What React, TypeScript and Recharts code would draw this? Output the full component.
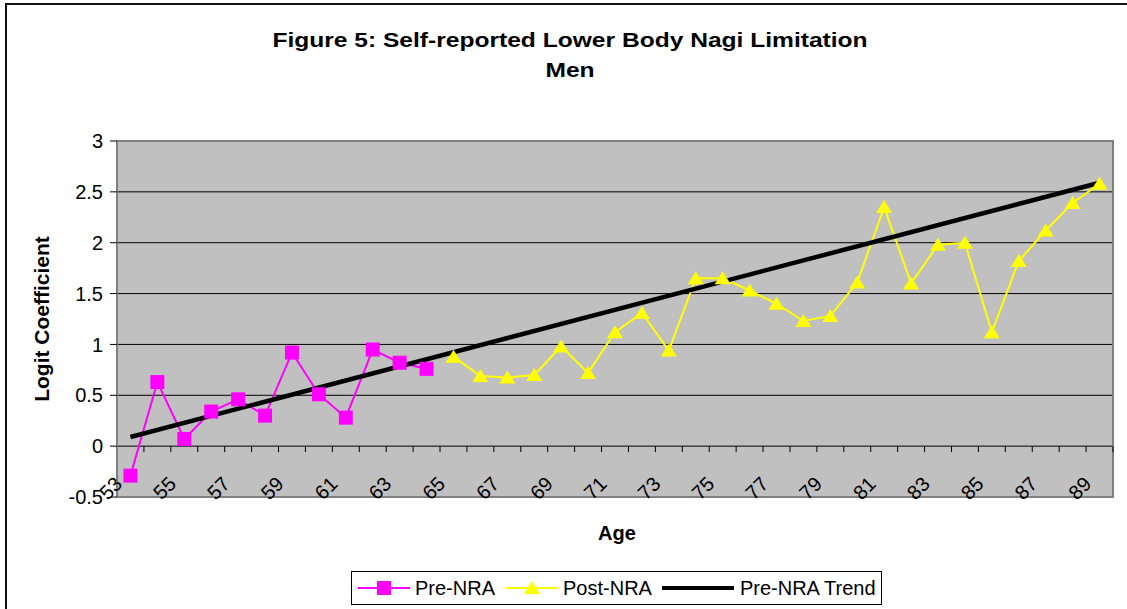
import { LineChart, Line, XAxis, YAxis, CartesianGrid, ReferenceArea } from 'recharts';

// ages on the category axis
const ages = [
  '53', '54', '55', '56', '57', '58', '59', '60', '61', '62', '63', '64',
  '65', '66', '67', '68', '69', '70', '71', '72', '73', '74', '75', '76',
  '77', '78', '79', '80', '81', '82', '83', '84', '85', '86', '87', '88', '89',
];

const preNra = [
  -0.29, 0.63, 0.07, 0.34, 0.46, 0.3, 0.92, 0.51, 0.28, 0.95, 0.82, 0.76,
  null, null, null, null, null, null, null, null, null, null, null, null,
  null, null, null, null, null, null, null, null, null, null, null, null, null,
];

const postNra = [
  null, null, null, null, null, null, null, null, null, null, null, null,
  0.88, 0.69, 0.675, 0.7, 0.98, 0.72, 1.12, 1.31, 0.94, 1.65, 1.65, 1.53,
  1.4, 1.23, 1.28, 1.61, 2.35, 1.6, 1.98, 2.0, 1.12, 1.82, 2.12, 2.39, 2.58,
];

// straight trend: only the two ends, joined with connectNulls
const preNraTrend = [
  0.09, null, null, null, null, null, null, null, null, null, null, null,
  null, null, null, null, null, null, null, null, null, null, null, null,
  null, null, null, null, null, null, null, null, null, null, null, null, 2.59,
];

const yTicks = [-0.5, 0, 0.5, 1, 1.5, 2, 2.5, 3];
const gridValues = [0, 0.5, 1, 1.5, 2, 2.5];
const xLabels = ['53', '55', '57', '59', '61', '63', '65', '67', '69', '71', '73', '75', '77', '79', '81', '83', '85', '87', '89'];

const data = ages.map((age, i) => ({
  age,
  pre: preNra[i],
  post: postNra[i],
  trend: preNraTrend[i],
}));

// layout
const W = 1127;
const H = 609;
const PLOT_LEFT = 117;
const PLOT_RIGHT = 1113;
const PLOT_TOP = 141;
const PLOT_BOTTOM = 497;
const Y_MIN = -0.5;
const Y_MAX = 3;
const BAND = (PLOT_RIGHT - PLOT_LEFT) / ages.length;
const Y_ZERO = PLOT_BOTTOM - ((0 - Y_MIN) / (Y_MAX - Y_MIN)) * (PLOT_BOTTOM - PLOT_TOP);
const FONT = 'Arial, "Liberation Sans", sans-serif';

function AgeTick(props: any) {
  const { x, payload } = props;
  const show = xLabels.includes(payload.value);
  const tx = x - 7;
  const ty = Y_ZERO + 39;
  return (
    <g>
      <line x1={x + BAND / 2} x2={x + BAND / 2} y1={Y_ZERO} y2={Y_ZERO + 6} stroke="#000" strokeWidth={1} />
      {show && (
        <text
          x={tx}
          y={ty}
          transform={`rotate(-45 ${tx} ${ty})`}
          textAnchor="end"
          fontSize={20}
          fontFamily={FONT}
          fill="#000"
        >
          {payload.value}
        </text>
      )}
    </g>
  );
}

const SquareDot = (p: any) => {
  if (p.cx == null || p.cy == null || p.value == null) return <g key={`sq-${p.index}`} />;
  return <rect key={`sq-${p.index}`} x={p.cx - 7} y={p.cy - 7} width={14} height={14} fill="#FF00FF" />;
};

const TriangleDot = (p: any) => {
  if (p.cx == null || p.cy == null || p.value == null) return <g key={`tr-${p.index}`} />;
  const { cx, cy } = p;
  return (
    <polygon
      key={`tr-${p.index}`}
      points={`${cx},${cy - 7} ${cx + 8},${cy + 6} ${cx - 8},${cy + 6}`}
      fill="#FFFF00"
    />
  );
};

function LegendIcon({ color, marker, width }: { color: string; marker: 'square' | 'triangle' | 'none'; width: number }) {
  const mid = width / 2;
  return (
    <svg width={width} height={16} style={{ display: 'block' }}>
      <line x1={0} x2={width} y1={8} y2={8} stroke={color} strokeWidth={marker === 'none' ? 4 : 2} />
      {marker === 'square' && <rect x={mid - 7} y={1} width={14} height={14} fill={color} />}
      {marker === 'triangle' && <polygon points={`${mid},1 ${mid + 8},14 ${mid - 8},14`} fill={color} />}
    </svg>
  );
}

export default function App() {
  return (
    <div style={{ position: 'absolute', left: 0, top: 0, width: W, height: H, overflow: 'hidden', background: '#fff', fontFamily: FONT }}>
      <div style={{ position: 'absolute', left: 5, top: 3, width: W + 20, height: H + 20, border: '2px solid #111', boxSizing: 'border-box' }} />

      <div
        style={{
          position: 'absolute',
          left: 0,
          top: 25,
          width: 1140,
          textAlign: 'center',
          fontWeight: 'bold',
          fontSize: 21,
          lineHeight: '30px',
          color: '#000',
          transform: 'scaleX(1.17)',
          transformOrigin: '570px 0',
        }}
      >
        Figure 5: Self-reported Lower Body Nagi Limitation
        <br />
        Men
      </div>

      <LineChart
        width={W}
        height={H}
        data={data}
        margin={{ top: PLOT_TOP, right: W - PLOT_RIGHT, left: PLOT_LEFT - 60, bottom: H - PLOT_BOTTOM - 30 }}
        style={{ position: 'absolute', left: 0, top: 0 }}
      >
        <CartesianGrid
          vertical={false}
          horizontalValues={gridValues}
          stroke="#000"
          strokeWidth={1}
          fill="#C0C0C0"
          fillOpacity={1}
        />
        <ReferenceArea y1={Y_MIN} y2={Y_MAX} fill="none" stroke="#808080" strokeWidth={2} />
        <XAxis
          dataKey="age"
          type="category"
          scale="band"
          interval={0}
          height={30}
          axisLine={false}
          tickLine={false}
          tick={<AgeTick />}
        />
        <YAxis
          type="number"
          domain={[Y_MIN, Y_MAX]}
          ticks={yTicks}
          width={60}
          axisLine={false}
          tickLine={{ stroke: '#000' }}
          tickSize={7}
          tickMargin={7}
          tick={{ fontSize: 20, fill: '#000', fontFamily: FONT }}
          allowDataOverflow
        />
        <Line
          dataKey="pre"
          stroke="#FF00FF"
          strokeWidth={2}
          dot={SquareDot}
          activeDot={false}
          isAnimationActive={false}
        />
        <Line
          dataKey="post"
          stroke="#FFFF00"
          strokeWidth={2}
          dot={TriangleDot}
          activeDot={false}
          isAnimationActive={false}
        />
        <Line
          dataKey="trend"
          stroke="#000"
          strokeWidth={4.5}
          dot={false}
          activeDot={false}
          connectNulls
          isAnimationActive={false}
        />
      </LineChart>

      <div
        style={{
          position: 'absolute',
          left: 42,
          top: 319,
          transform: 'translate(-50%, -50%) rotate(-90deg)',
          whiteSpace: 'nowrap',
          fontWeight: 'bold',
          fontSize: 21,
          color: '#000',
        }}
      >
        Logit Coefficient
      </div>

      <div style={{ position: 'absolute', left: 617, top: 533, transform: 'translate(-50%, -50%)', fontWeight: 'bold', fontSize: 20, color: '#000' }}>
        Age
      </div>

      <div
        style={{
          position: 'absolute',
          left: 351,
          top: 571,
          width: 531,
          height: 34,
          border: '1px solid #000',
          boxSizing: 'border-box',
          display: 'flex',
          alignItems: 'center',
          paddingLeft: 6,
          fontSize: 20,
          color: '#000',
          whiteSpace: 'nowrap',
        }}
      >
        <LegendIcon color="#FF00FF" marker="square" width={52} />
        <span style={{ marginLeft: 5, marginRight: 11 }}>Pre-NRA</span>
        <LegendIcon color="#FFFF00" marker="triangle" width={52} />
        <span style={{ marginLeft: 5, marginRight: 10 }}>Post-NRA</span>
        <LegendIcon color="#000" marker="none" width={72} />
        <span style={{ marginLeft: 6 }}>Pre-NRA Trend</span>
      </div>
    </div>
  );
}
